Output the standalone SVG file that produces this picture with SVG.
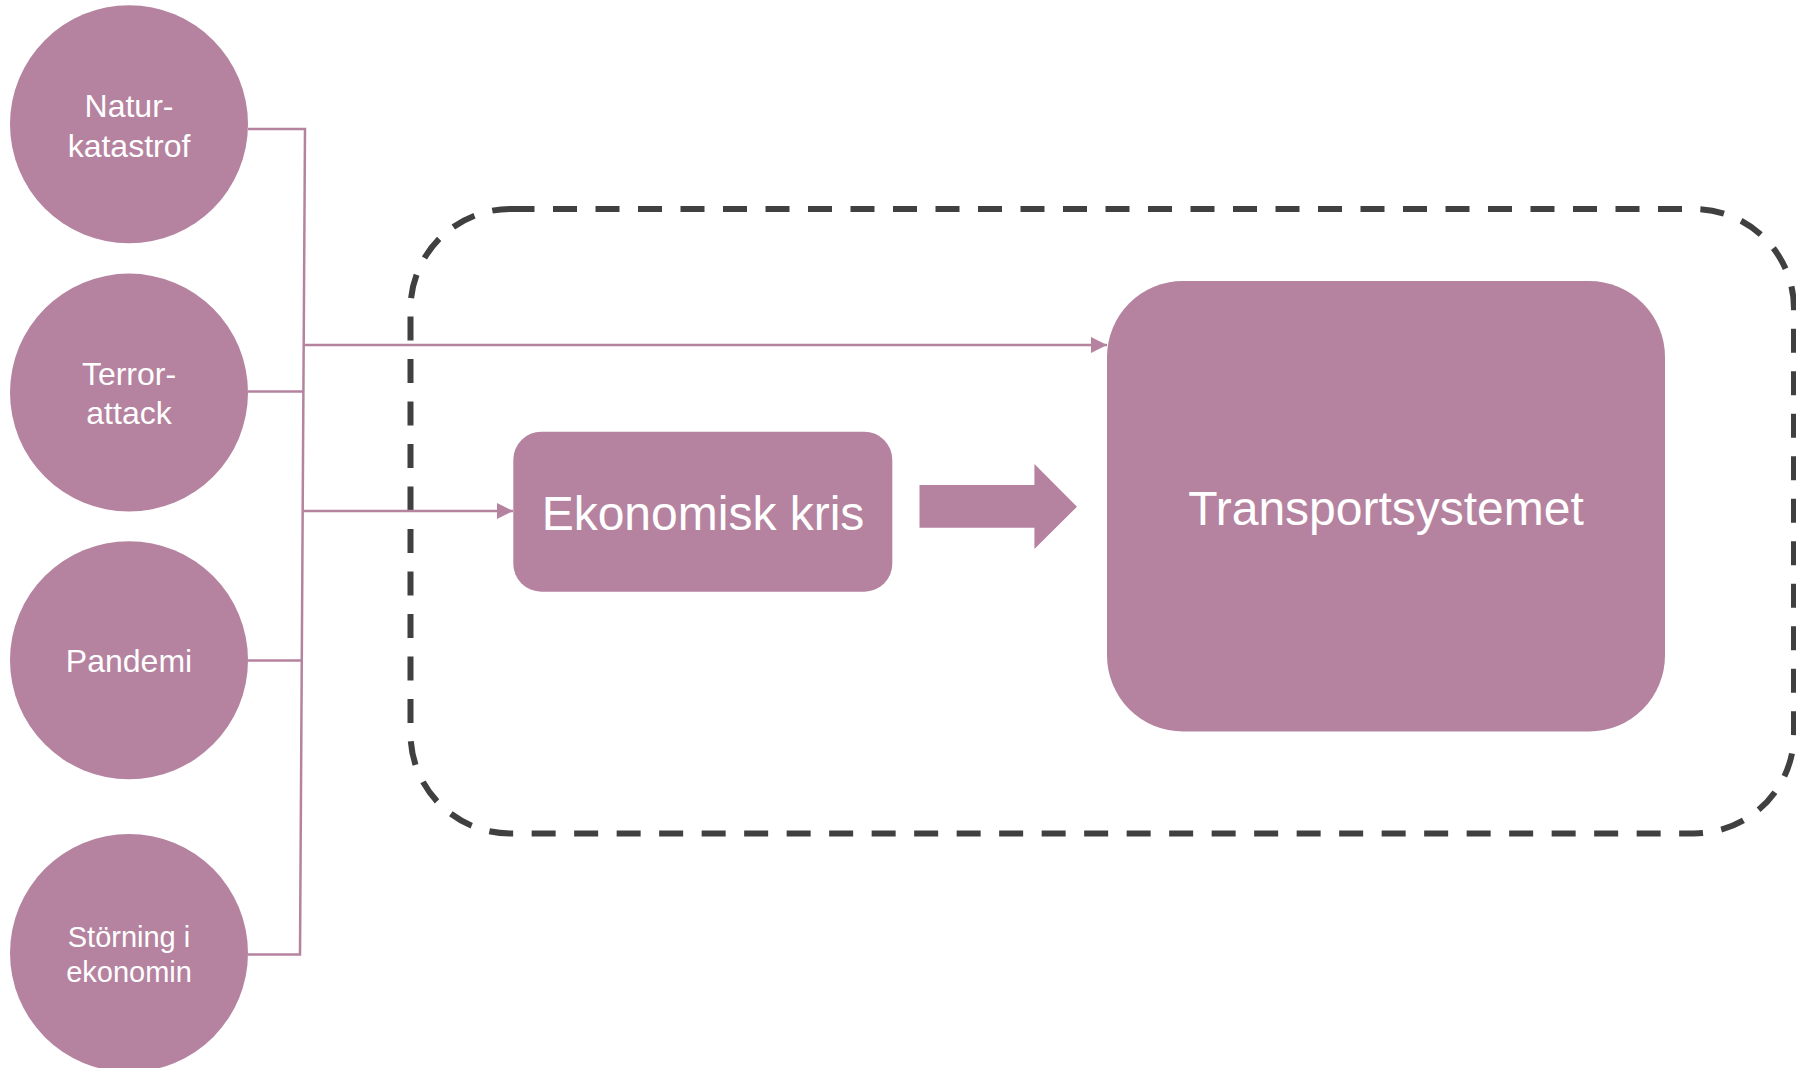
<svg xmlns="http://www.w3.org/2000/svg" width="1796" height="1068" viewBox="0 0 1796 1068">
<style>
.node{fill:#B5839F}
.lbl{fill:#FFFFFF;font-family:"Liberation Sans",Arial,sans-serif;text-anchor:middle}
.conn{stroke:#B5839F;stroke-width:2.5;fill:none}
</style>
<defs>
<marker id="ah" viewBox="0 0 16 16" refX="16" refY="8" markerWidth="16" markerHeight="16" markerUnits="userSpaceOnUse" orient="auto">
<path d="M0,0 L16,8 L0,16 Z" fill="#B5839F"/>
</marker>
</defs>
<rect width="1796" height="1068" fill="#FFFFFF"/>
<g id="boundary">
<rect x="410.5" y="209" width="1383.5" height="624.5" rx="100" ry="100" fill="none" stroke="#404040" stroke-width="6" stroke-dasharray="24 18.5"/>
</g>
<g id="connectors">
<path class="conn" d="M248,129 H305 L300,954.5 H248"/>
<path class="conn" d="M248,391.5 H303.5"/>
<path class="conn" d="M248,660.5 H302"/>
<path class="conn" d="M304,345 H1107" marker-end="url(#ah)"/>
<path class="conn" d="M303,511 H513" marker-end="url(#ah)"/>
<polygon id="block-arrow" class="node" points="919.5,485 1034.4,485 1034.4,464 1077,506.7 1034.4,549 1034.4,527.7 919.5,527.7"/>
</g>
<g id="node-naturkatastrof">
<circle class="node" cx="129" cy="124.3" r="119"/>
<text class="lbl" font-size="32" x="129" y="117">Natur-</text>
<text class="lbl" font-size="32" x="129" y="156.5">katastrof</text>
</g>
<g id="node-terrorattack">
<circle class="node" cx="129" cy="392.6" r="119"/>
<text class="lbl" font-size="32" x="129" y="385">Terror-</text>
<text class="lbl" font-size="32" x="129" y="423.5">attack</text>
</g>
<g id="node-pandemi">
<circle class="node" cx="129" cy="660.2" r="119"/>
<text class="lbl" font-size="32" x="129" y="672">Pandemi</text>
</g>
<g id="node-storning">
<circle class="node" cx="129" cy="953" r="119"/>
<text class="lbl" font-size="29" x="129" y="947">Störning i</text>
<text class="lbl" font-size="29" x="129" y="982">ekonomin</text>
</g>
<g id="node-ekonomisk-kris">
<rect class="node" x="513.3" y="431.7" width="379" height="160" rx="28" ry="28"/>
<text class="lbl" font-size="48" x="703" y="530">Ekonomisk kris</text>
</g>
<g id="node-transportsystemet">
<rect class="node" x="1107" y="281" width="558" height="450.5" rx="76" ry="76"/>
<text class="lbl" font-size="48" x="1386" y="525">Transportsystemet</text>
</g>
</svg>
